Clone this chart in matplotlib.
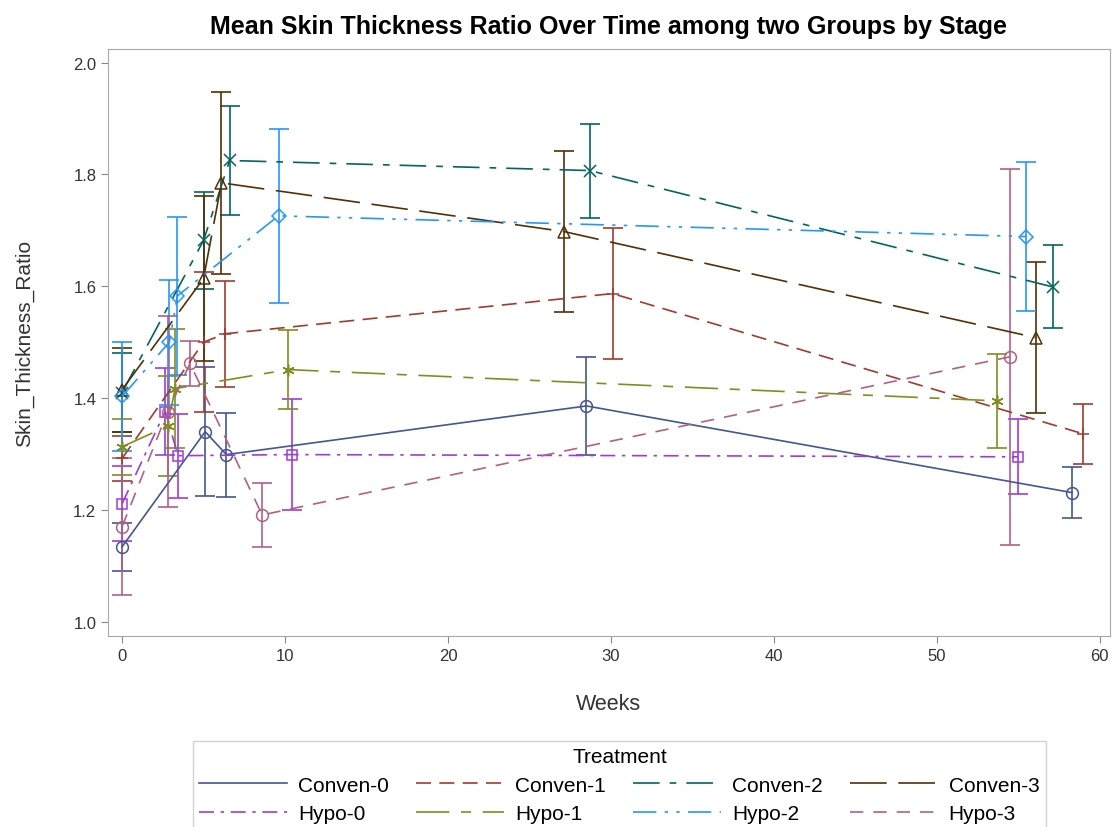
import matplotlib
matplotlib.use("Agg")
import matplotlib.pyplot as plt
from matplotlib.lines import Line2D

plt.rcParams['font.family'] = ['Liberation Sans', 'DejaVu Sans']

# weeks, mean ratio and half width of the error bar for each treatment group
groups = ['Conven-0', 'Conven-1', 'Conven-2', 'Conven-3',
          'Hypo-0', 'Hypo-1', 'Hypo-2', 'Hypo-3']

weeks = {
    'Conven-0': [0, 5.1, 6.4, 28.5, 58.3],
    'Conven-1': [0, 5.0, 6.3, 30.1, 59.0],
    'Conven-2': [0, 5.0, 6.6, 28.7, 57.1],
    'Conven-3': [0, 5.0, 6.1, 27.1, 56.1],
    'Hypo-0': [0, 2.64, 3.44, 10.4, 55.0],
    'Hypo-1': [0, 2.8, 3.25, 10.2, 53.7],
    'Hypo-2': [0, 2.9, 3.4, 9.6, 55.5],
    'Hypo-3': [0, 2.8, 4.17, 8.6, 54.5],
}
means = {
    'Conven-0': [1.134, 1.340, 1.299, 1.386, 1.231],
    'Conven-1': [1.292, 1.500, 1.515, 1.587, 1.336],
    'Conven-2': [1.410, 1.682, 1.825, 1.807, 1.599],
    'Conven-3': [1.415, 1.614, 1.785, 1.698, 1.508],
    'Hypo-0': [1.211, 1.376, 1.297, 1.299, 1.295],
    'Hypo-1': [1.313, 1.350, 1.417, 1.451, 1.395],
    'Hypo-2': [1.403, 1.500, 1.583, 1.726, 1.689],
    'Hypo-3': [1.170, 1.376, 1.462, 1.191, 1.474],
}
errs = {
    'Conven-0': [0.043, 0.115, 0.075, 0.088, 0.045],
    'Conven-1': [0.040, 0.125, 0.095, 0.117, 0.053],
    'Conven-2': [0.070, 0.087, 0.097, 0.084, 0.074],
    'Conven-3': [0.075, 0.147, 0.163, 0.144, 0.135],
    'Hypo-0': [0.067, 0.078, 0.075, 0.100, 0.067],
    'Hypo-1': [0.050, 0.090, 0.107, 0.070, 0.084],
    'Hypo-2': [0.097, 0.112, 0.141, 0.155, 0.134],
    'Hypo-3': [0.123, 0.170, 0.040, 0.058, 0.336],
}

colors = ['#445694', '#A23A2E', '#01665E', '#543005',
          '#9D3CDB', '#7F8E1F', '#2597FA', '#B26084']
markers = ['o', '+', 'x', '^', 's', (6, 2, 0), 'D', 'o']
styles = ['-', (0, (9, 5)), (0, (16, 6, 4, 6)), (0, (22, 7)),
          (0, (9, 4, 2, 4)), (0, (20, 7, 6, 7)), (0, (14, 5, 2, 5, 2, 5)), (0, (8, 6))]

fig = plt.figure(figsize=(11.14, 8.28), dpi=100)
ax = fig.add_axes([0.097, 0.231, 0.899, 0.709])

handles = []
for g, c, m, ls in zip(groups, colors, markers, styles):
    ax.errorbar(weeks[g], means[g], yerr=errs[g], fmt='none', ecolor=c,
                elinewidth=1.2, capsize=7, capthick=1.2, zorder=2)
    ms = 7 if m in ('D', 's') else 8.5
    ax.plot(weeks[g], means[g], color=c, linestyle=ls, lw=1.2, marker=m,
            markersize=ms, markerfacecolor='none', markeredgecolor=c,
            markeredgewidth=1.1, zorder=3)
    handles.append(Line2D([], [], color=c, linestyle=ls, lw=1.2))

ax.set_xlim(-0.86, 60.6)
ax.set_ylim(0.975, 2.025)
ax.set_xticks(range(0, 61, 10))
ax.set_yticks([1.0, 1.2, 1.4, 1.6, 1.8, 2.0])
ax.set_yticklabels(['1.0', '1.2', '1.4', '1.6', '1.8', '2.0'])
ax.tick_params(labelsize=12, colors='#333333', length=5, color='#888888')
for s in ax.spines.values():
    s.set_color('#A8A8A8')

ax.set_xlabel('Weeks', fontsize=15.5, color='#333333', labelpad=22)
ax.set_ylabel('Skin_Thickness_Ratio', fontsize=15, color='#333333', labelpad=28)
ax.set_title('Mean Skin Thickness Ratio Over Time among two Groups by Stage',
             fontsize=18, fontweight='bold', pad=11)

order = [0, 4, 1, 5, 2, 6, 3, 7]
leg = fig.legend([handles[i] for i in order], [groups[i] for i in order],
                 ncol=4, loc='upper center', bbox_to_anchor=(0.556, 0.104),
                 title='Treatment', fontsize=15, title_fontsize=15,
                 handlelength=4.2, handletextpad=0.55, columnspacing=1.3,
                 frameon=True, fancybox=False, edgecolor='#C8C8C8',
                 borderpad=0.3, labelspacing=0.45, borderaxespad=0)
leg.get_frame().set_linewidth(1.0)

fig.savefig('out.png', dpi=100)
